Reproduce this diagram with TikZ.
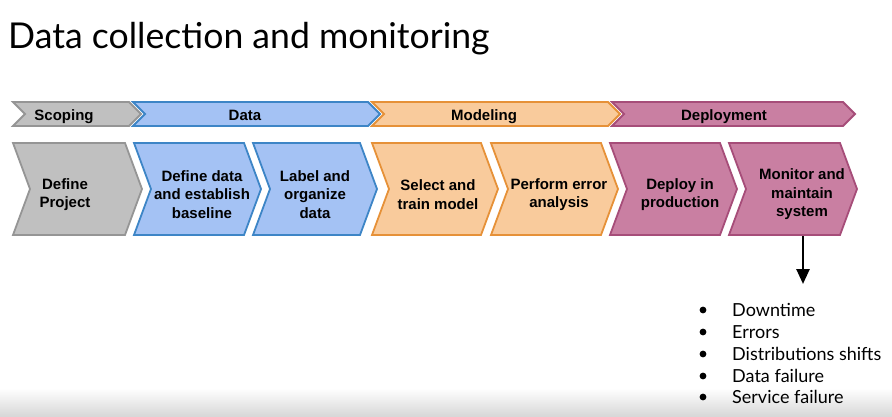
\documentclass[tikz,border=0pt]{standalone}
\usepackage{fontspec}
\setmainfont{Liberation Sans}
\newfontfamily\latofont{Lato}
\usetikzlibrary{arrows.meta}
\definecolor{gfill}{HTML}{C0C0C0}
\definecolor{gline}{HTML}{959595}
\definecolor{bfill}{HTML}{A4C2F4}
\definecolor{bline}{HTML}{3D85C6}
\definecolor{ofill}{HTML}{F9CB9C}
\definecolor{oline}{HTML}{E69138}
\definecolor{pfill}{HTML}{C97FA2}
\definecolor{pline}{HTML}{A64D79}
\tikzset{
  chevpath/.style={line width=1.8pt, line join=miter},
  barlabel/.style={font=\fontsize{15}{18}\selectfont\bfseries, inner sep=0pt, anchor=base},
  boxlabel/.style={font=\fontsize{15}{18.5}\selectfont\bfseries, align=center, inner sep=0pt},
  bullettext/.style={font=\latofont\fontsize{18}{21}\selectfont, anchor=west, inner sep=0pt},
}
% #1 fill, #2 line, #3 L, #4 R, #5 top, #6 bottom, #7 depth
\newcommand{\mychev}[7]{%
  \filldraw[chevpath, fill=#1, draw=#2]
    (#3,#5) -- ({#4-#7},#5) -- (#4,{(#5+#6)/2}) -- ({#4-#7},#6) -- (#3,#6)
    -- ({#3+#7},{(#5+#6)/2}) -- cycle;}
\begin{document}
\begin{tikzpicture}[x=1pt,y=-1pt]
\useasboundingbox (0,0) rectangle (892,417);
\shade[top color=white, bottom color=black!16] (0,388) rectangle (892,417);
% title
\node[font=\latofont\fontsize{35.6}{40}\selectfont, anchor=base west, inner sep=0pt] (title) at (8,49) {Data collection and monitoring};
% phase bars
\mychev{gfill}{gline}{13}{141}{102}{126}{12}
\mychev{bfill}{bline}{133}{380}{102}{126}{12}
\mychev{ofill}{oline}{372}{620}{102}{126}{12}
\mychev{pfill}{pline}{612}{855}{102}{126}{12}
\node[barlabel] (pscope) at (64,120.6) {Scoping};
\node[barlabel] (pdata) at (245,120.6) {Data};
\node[barlabel] (pmodel) at (484,120.6) {Modeling};
\node[barlabel] (pdeploy) at (724,120.6) {Deployment};
% step boxes
\mychev{gfill}{gline}{13}{142}{143}{235}{17}
\mychev{bfill}{bline}{134}{261}{143}{235}{17}
\mychev{bfill}{bline}{253}{377}{143}{235}{17}
\mychev{ofill}{oline}{372}{498}{143}{235}{17}
\mychev{ofill}{oline}{491}{618}{143}{235}{17}
\mychev{pfill}{pline}{610}{737}{143}{235}{17}
\mychev{pfill}{pline}{729}{857}{143}{235}{17}
\node[boxlabel] (s1) at (65,194.5) {Define\\Project};
\node[boxlabel] (s2) at (202,194.5) {Define data\\and establish\\baseline};
\node[boxlabel] (s3) at (315,194.5) {Label and\\organize\\data};
\node[boxlabel] (s4) at (438,194.5) {Select and\\train model};
\node[boxlabel] (s5) at (559,194.5) {Perform error\\analysis};
\node[boxlabel] (s6) at (680,194.5) {Deploy in\\production};
\node[boxlabel] (s7) at (802,194.5) {Monitor and\\maintain\\system};
% arrow
\coordinate (abeg) at (803,236);
\coordinate (aend) at (803,284);
\draw[line width=2.6pt, -{Triangle[length=15pt,width=13pt]}] (abeg) -- (aend);
% bullets
\foreach \t/\y/\n in {Downtime/310/b1, Errors/332/b2, Distributions shifts/354/b3, Data failure/376/b4, Service failure/397/b5}{
  \fill (703,\y) circle (3.4pt);
  \node[bullettext] (\n) at (732,\y) {\t};
}
\end{tikzpicture}
\end{document}
